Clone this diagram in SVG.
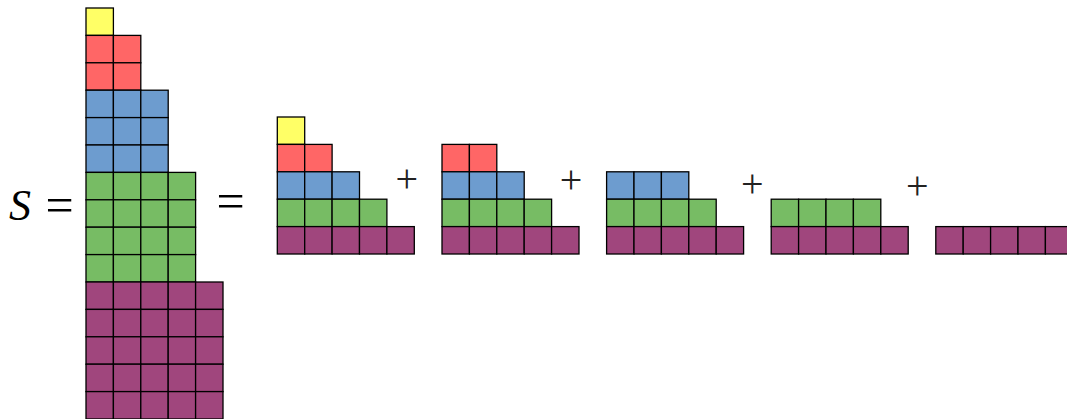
<svg xmlns="http://www.w3.org/2000/svg" xmlns:xlink="http://www.w3.org/1999/xlink" width="1067" height="419" viewBox="0 0 1067 419">
<style>
.y{fill:#ffff66}.r{fill:#ff6666}.b{fill:#6d9ccf}.g{fill:#77bc64}.p{fill:#a0467d}
use{stroke:#000;stroke-width:1.3}
.t{font-family:"Liberation Serif","DejaVu Serif",serif;fill:#000}
.pl{font-family:"Liberation Serif","DejaVu Serif",serif;font-size:40px;text-anchor:middle;fill:#222}
</style>
<defs><rect id="c" width="27.4" height="27.4"/></defs>
<rect width="1067" height="419" fill="#fff"/>
<g id="lhs">
<text class="t" x="9" y="220" font-size="44" font-style="italic">S</text>
<text class="t" x="59.5" y="222" font-size="50" text-anchor="middle">=</text>
</g>
<g id="stack" transform="translate(86,8)">
<use href="#c" class="y" x="0" y="0"/>
<use href="#c" class="r" x="0" y="27.4"/><use href="#c" class="r" x="27.4" y="27.4"/>
<use href="#c" class="r" x="0" y="54.8"/><use href="#c" class="r" x="27.4" y="54.8"/>
<use href="#c" class="b" x="0" y="82.2"/><use href="#c" class="b" x="27.4" y="82.2"/><use href="#c" class="b" x="54.8" y="82.2"/>
<use href="#c" class="b" x="0" y="109.6"/><use href="#c" class="b" x="27.4" y="109.6"/><use href="#c" class="b" x="54.8" y="109.6"/>
<use href="#c" class="b" x="0" y="137"/><use href="#c" class="b" x="27.4" y="137"/><use href="#c" class="b" x="54.8" y="137"/>
<use href="#c" class="g" x="0" y="164.4"/><use href="#c" class="g" x="27.4" y="164.4"/><use href="#c" class="g" x="54.8" y="164.4"/><use href="#c" class="g" x="82.2" y="164.4"/>
<use href="#c" class="g" x="0" y="191.8"/><use href="#c" class="g" x="27.4" y="191.8"/><use href="#c" class="g" x="54.8" y="191.8"/><use href="#c" class="g" x="82.2" y="191.8"/>
<use href="#c" class="g" x="0" y="219.2"/><use href="#c" class="g" x="27.4" y="219.2"/><use href="#c" class="g" x="54.8" y="219.2"/><use href="#c" class="g" x="82.2" y="219.2"/>
<use href="#c" class="g" x="0" y="246.6"/><use href="#c" class="g" x="27.4" y="246.6"/><use href="#c" class="g" x="54.8" y="246.6"/><use href="#c" class="g" x="82.2" y="246.6"/>
<use href="#c" class="p" x="0" y="274"/><use href="#c" class="p" x="27.4" y="274"/><use href="#c" class="p" x="54.8" y="274"/><use href="#c" class="p" x="82.2" y="274"/><use href="#c" class="p" x="109.6" y="274"/>
<use href="#c" class="p" x="0" y="301.4"/><use href="#c" class="p" x="27.4" y="301.4"/><use href="#c" class="p" x="54.8" y="301.4"/><use href="#c" class="p" x="82.2" y="301.4"/><use href="#c" class="p" x="109.6" y="301.4"/>
<use href="#c" class="p" x="0" y="328.8"/><use href="#c" class="p" x="27.4" y="328.8"/><use href="#c" class="p" x="54.8" y="328.8"/><use href="#c" class="p" x="82.2" y="328.8"/><use href="#c" class="p" x="109.6" y="328.8"/>
<use href="#c" class="p" x="0" y="356.2"/><use href="#c" class="p" x="27.4" y="356.2"/><use href="#c" class="p" x="54.8" y="356.2"/><use href="#c" class="p" x="82.2" y="356.2"/><use href="#c" class="p" x="109.6" y="356.2"/>
<use href="#c" class="p" x="0" y="383.6"/><use href="#c" class="p" x="27.4" y="383.6"/><use href="#c" class="p" x="54.8" y="383.6"/><use href="#c" class="p" x="82.2" y="383.6"/><use href="#c" class="p" x="109.6" y="383.6"/>
</g>
<g id="eq2"><text class="t" x="230.5" y="217.5" font-size="50" text-anchor="middle">=</text></g>
<g id="stair1" transform="translate(277.3,117)">
<use href="#c" class="y" x="0" y="0"/>
<use href="#c" class="r" x="0" y="27.4"/><use href="#c" class="r" x="27.4" y="27.4"/>
<use href="#c" class="b" x="0" y="54.8"/><use href="#c" class="b" x="27.4" y="54.8"/><use href="#c" class="b" x="54.8" y="54.8"/>
<use href="#c" class="g" x="0" y="82.2"/><use href="#c" class="g" x="27.4" y="82.2"/><use href="#c" class="g" x="54.8" y="82.2"/><use href="#c" class="g" x="82.2" y="82.2"/>
<use href="#c" class="p" x="0" y="109.6"/><use href="#c" class="p" x="27.4" y="109.6"/><use href="#c" class="p" x="54.8" y="109.6"/><use href="#c" class="p" x="82.2" y="109.6"/><use href="#c" class="p" x="109.6" y="109.6"/>
</g>
<g id="stair2" transform="translate(442,117)">
<use href="#c" class="r" x="0" y="27.4"/><use href="#c" class="r" x="27.4" y="27.4"/>
<use href="#c" class="b" x="0" y="54.8"/><use href="#c" class="b" x="27.4" y="54.8"/><use href="#c" class="b" x="54.8" y="54.8"/>
<use href="#c" class="g" x="0" y="82.2"/><use href="#c" class="g" x="27.4" y="82.2"/><use href="#c" class="g" x="54.8" y="82.2"/><use href="#c" class="g" x="82.2" y="82.2"/>
<use href="#c" class="p" x="0" y="109.6"/><use href="#c" class="p" x="27.4" y="109.6"/><use href="#c" class="p" x="54.8" y="109.6"/><use href="#c" class="p" x="82.2" y="109.6"/><use href="#c" class="p" x="109.6" y="109.6"/>
</g>
<g id="stair3" transform="translate(606.6,117)">
<use href="#c" class="b" x="0" y="54.8"/><use href="#c" class="b" x="27.4" y="54.8"/><use href="#c" class="b" x="54.8" y="54.8"/>
<use href="#c" class="g" x="0" y="82.2"/><use href="#c" class="g" x="27.4" y="82.2"/><use href="#c" class="g" x="54.8" y="82.2"/><use href="#c" class="g" x="82.2" y="82.2"/>
<use href="#c" class="p" x="0" y="109.6"/><use href="#c" class="p" x="27.4" y="109.6"/><use href="#c" class="p" x="54.8" y="109.6"/><use href="#c" class="p" x="82.2" y="109.6"/><use href="#c" class="p" x="109.6" y="109.6"/>
</g>
<g id="stair4" transform="translate(771.2,117)">
<use href="#c" class="g" x="0" y="82.2"/><use href="#c" class="g" x="27.4" y="82.2"/><use href="#c" class="g" x="54.8" y="82.2"/><use href="#c" class="g" x="82.2" y="82.2"/>
<use href="#c" class="p" x="0" y="109.6"/><use href="#c" class="p" x="27.4" y="109.6"/><use href="#c" class="p" x="54.8" y="109.6"/><use href="#c" class="p" x="82.2" y="109.6"/><use href="#c" class="p" x="109.6" y="109.6"/>
</g>
<g id="stair5" transform="translate(935.8,117)">
<use href="#c" class="p" x="0" y="109.6"/><use href="#c" class="p" x="27.4" y="109.6"/><use href="#c" class="p" x="54.8" y="109.6"/><use href="#c" class="p" x="82.2" y="109.6"/><use href="#c" class="p" x="109.6" y="109.6"/>
</g>
<g id="plus">
<text class="pl" x="406.7" y="192">+</text>
<text class="pl" x="571" y="192.7">+</text>
<text class="pl" x="752.3" y="197">+</text>
<text class="pl" x="917.3" y="199.3">+</text>
</g>
<g id="connectors"/>
</svg>
